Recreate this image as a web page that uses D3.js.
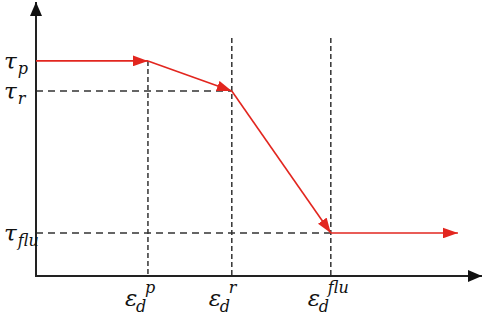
<!DOCTYPE html>
<html>
<head>
<meta charset="UTF-8" />
<script src="https://d3js.org/d3.v7.min.js"></script>
<style>
  body { margin: 0; background: #fff; }
  svg { display: block; }
  .lbl { font-family: "DejaVu Serif", serif; font-style: italic; fill: #111; }
</style>
</head>
<body>
<svg width="484" height="318"></svg>
<script>
// strain marks along x (arbitrary units) and stress levels along y
const strainNames = ["p", "r", "flu"];
const strainValues = [25.1, 43.9, 66.1];
const stressNames = ["p", "r", "flu"];
const stressValues = [78.5, 67.5, 15.7];
const dashTop = 86.9;     // where the vertical guides start
const curveEnd = 94.6;    // end of the last red arrow

const svg = d3.select("svg");
const x = d3.scaleLinear().domain([0, 100]).range([36, 482]);
const y = d3.scaleLinear().domain([0, 100]).range([276, 2]);

const defs = svg.append("defs");
defs.append("marker").attr("id", "redHead")
  .attr("viewBox", "0 0 14 10").attr("refX", 14).attr("refY", 5)
  .attr("markerUnits", "userSpaceOnUse")
  .attr("markerWidth", 15).attr("markerHeight", 11).attr("orient", "auto")
  .append("path").attr("d", "M0,0L14,5L0,10Z").attr("fill", "#e2261f");
defs.append("marker").attr("id", "blackHead")
  .attr("viewBox", "0 0 14 12").attr("refX", 14).attr("refY", 6)
  .attr("markerUnits", "userSpaceOnUse")
  .attr("markerWidth", 14).attr("markerHeight", 12).attr("orient", "auto")
  .append("path").attr("d", "M0,0L14,6L0,12Z").attr("fill", "#111");

// dashed guides
const dash = svg.append("g").attr("stroke", "#333").attr("stroke-width", 1.5)
  .attr("fill", "none");
// vertical guides: first one starts at the plateau, others from the top
strainValues.forEach((v, i) => {
  const top = i === 0 ? stressValues[0] : dashTop;
  dash.append("line").attr("x1", x(v)).attr("x2", x(v)).attr("y1", y(top)).attr("y2", y(0))
    .attr("stroke-dasharray", "5,3");
});
// horizontal guides for tau_r and tau_flu
[1, 2].forEach(i => {
  dash.append("line").attr("x1", x(0)).attr("x2", x(strainValues[i]))
    .attr("y1", y(stressValues[i])).attr("y2", y(stressValues[i]))
    .attr("stroke-dasharray", "7,5");
});

// axes
svg.append("line").attr("x1", x(0)).attr("x2", x(0)).attr("y1", y(0) + 1).attr("y2", y(100))
  .attr("stroke", "#222").attr("stroke-width", 2).attr("marker-end", "url(#blackHead)");
svg.append("line").attr("x1", x(0) - 1).attr("x2", x(100)).attr("y1", y(0)).attr("y2", y(0))
  .attr("stroke", "#222").attr("stroke-width", 2).attr("marker-end", "url(#blackHead)");

// red curve segments
const pts = [
  [0, stressValues[0]],
  [strainValues[0], stressValues[0]],
  [strainValues[1], stressValues[1]],
  [strainValues[2], stressValues[2]],
  [curveEnd, stressValues[2]]
];
const red = svg.append("g").attr("stroke", "#e2261f").attr("stroke-width", 1.6);
for (let i = 0; i < pts.length - 1; i++) {
  red.append("line")
    .attr("x1", x(pts[i][0])).attr("y1", y(pts[i][1]))
    .attr("x2", x(pts[i + 1][0])).attr("y2", y(pts[i + 1][1]))
    .attr("marker-end", "url(#redHead)");
}

// y labels
stressNames.forEach((n, i) => {
  const t = svg.append("text").attr("class", "lbl")
    .attr("x", 4).attr("y", y(stressValues[i]) + 8).attr("font-size", 23);
  t.append("tspan").text("τ");
  t.append("tspan").attr("font-size", 16).attr("dy", 5).attr("dx", 1).text(n);
});

// x labels
strainNames.forEach((n, i) => {
  const cx = x(strainValues[i]);
  svg.append("text").attr("class", "lbl").attr("x", cx - 23).attr("y", 306)
    .attr("font-size", 23).text("ε");
  svg.append("text").attr("class", "lbl").attr("x", cx - 12).attr("y", 312)
    .attr("font-size", 16).text("d");
  svg.append("text").attr("class", "lbl").attr("x", cx - 3).attr("y", 293)
    .attr("font-size", 16).text(n);
});
</script>
</body>
</html>
